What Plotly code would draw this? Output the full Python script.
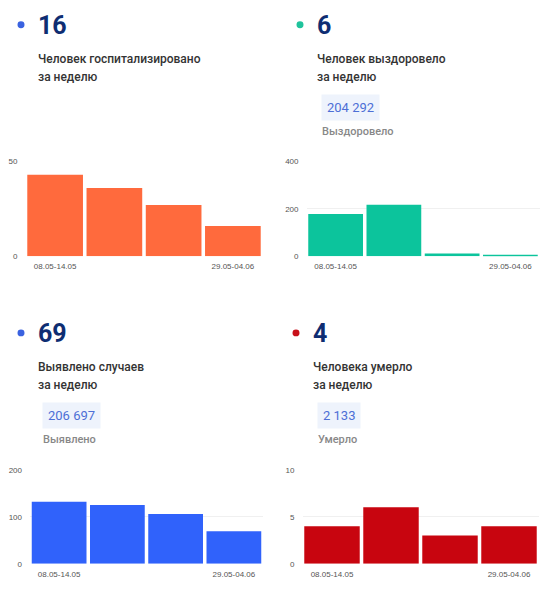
import plotly.graph_objects as go

weeks = ["08.05-14.05", "15.05-21.05", "22.05-28.05", "29.05-04.06"]
hospitalized = [43, 36, 27, 16]
recovered = [178, 217, 11, 6]
cases = [132, 125, 106, 69]
deaths = [4, 6, 3, 4]

headline = ["16", "6", "69", "4"]
titles = [["Человек госпитализировано", "за неделю"],
          ["Человек выздоровело", "за неделю"],
          ["Выявлено случаев", "за неделю"],
          ["Человека умерло", "за неделю"]]
totals = [None, "204 292", "206 697", "2 133"]
total_labels = [None, "Выздоровело", "Выявлено", "Умерло"]

series = [hospitalized, recovered, cases, deaths]
bar_colors = ["#ff6a3d", "#0cc49c", "#3062fb", "#c8050f"]
dot_colors = ["#3a62e0", "#1fc39c", "#3a62e0", "#c8101a"]
y_ranges = [[0, 50], [0, 400], [0, 200], [0, 10]]
y_dticks = [50, 200, 100, 5]

OFF = 8  # page body margin
W, H = 558 - 2 * OFF, 578
def px(x):
    return (x - OFF) / W
def py(y):
    return 1 - (y - OFF) / H

# pixel geometry of each panel: (plot x0, x1, y_top, y_bottom, text left x, header top y)
panels = [
    (25.5, 262.5, 160, 256, 21, 0),
    (306.5, 539.5, 160, 256, 300, 0),
    (30, 263, 473, 568.5, 21, 313),
    (302.5, 538.5, 473, 568.5, 296, 313),
]

fig = go.Figure()
layout = {}
shapes = []
annotations = []

for i, (x0, x1, yt, yb, tx, hy) in enumerate(panels):
    n = "" if i == 0 else str(i + 1)
    fig.add_trace(go.Bar(
        x=weeks, y=series[i], marker=dict(color=bar_colors[i], line=dict(width=0)),
        xaxis="x" + n, yaxis="y" + n, showlegend=False, hoverinfo="x+y"))
    layout["xaxis" + n] = dict(
        domain=[px(x0), px(x1)], anchor="y" + n, type="category",
        tickmode="array", tickvals=[weeks[0], weeks[-1]],
        ticktext=[weeks[0], weeks[-1]], showgrid=False, zeroline=False,
        showline=False, ticks="", ticklabelstandoff=4,
        tickfont=dict(family="Arial", size=8, color="#555"),
        fixedrange=True)
    layout["yaxis" + n] = dict(
        domain=[py(yb), py(yt)], anchor="x" + n, range=y_ranges[i],
        dtick=y_dticks[i], showgrid=True, gridcolor="#f0f0f0", gridwidth=1,
        zeroline=False, showline=False, ticks="", ticklabelstandoff=7,
        tickfont=dict(family="Arial", size=8, color="#555"), fixedrange=True)

    # dot
    dy = hy + 21
    shapes.append(dict(type="circle", xref="paper", yref="paper",
                       x0=px(tx - 3.5), x1=px(tx + 3.5), y0=py(dy + 3.5), y1=py(dy - 3.5),
                       fillcolor=dot_colors[i], line=dict(width=0)))
    # big number
    annotations.append(dict(xref="paper", yref="paper", x=px(tx + 15), y=py(dy + 1),
                            xanchor="left", yanchor="middle", showarrow=False,
                            text="<b>" + headline[i] + "</b>",
                            font=dict(family="Roboto", size=25, color="#0e2d72")))
    # title lines
    for k, line in enumerate(titles[i]):
        annotations.append(dict(xref="paper", yref="paper", x=px(tx + 15), y=py(hy + 56 + 18 * k),
                                xanchor="left", yanchor="middle", showarrow=False,
                                text=line,
                                font=dict(family="Roboto", size=12, color="#333", weight=500)))
    if totals[i]:
        annotations.append(dict(xref="paper", yref="paper", x=px(tx + 21), y=py(hy + 105),
                                xanchor="left", yanchor="middle", showarrow=False,
                                text=totals[i], bgcolor="#eef3fc", borderpad=5,
                                font=dict(family="Roboto", size=13, color="#4d6fd6")))
        annotations.append(dict(xref="paper", yref="paper", x=px(tx + 20), y=py(hy + 129),
                                xanchor="left", yanchor="middle", showarrow=False,
                                text=total_labels[i],
                                font=dict(family="Roboto", size=11, color="#888", weight=500)))

fig.update_layout(
    width=W, height=H, margin=dict(l=0, r=0, t=0, b=0),
    paper_bgcolor="white", plot_bgcolor="white",
    bargap=0.06, shapes=shapes, annotations=annotations, **layout)

fig.write_html("out.html")
